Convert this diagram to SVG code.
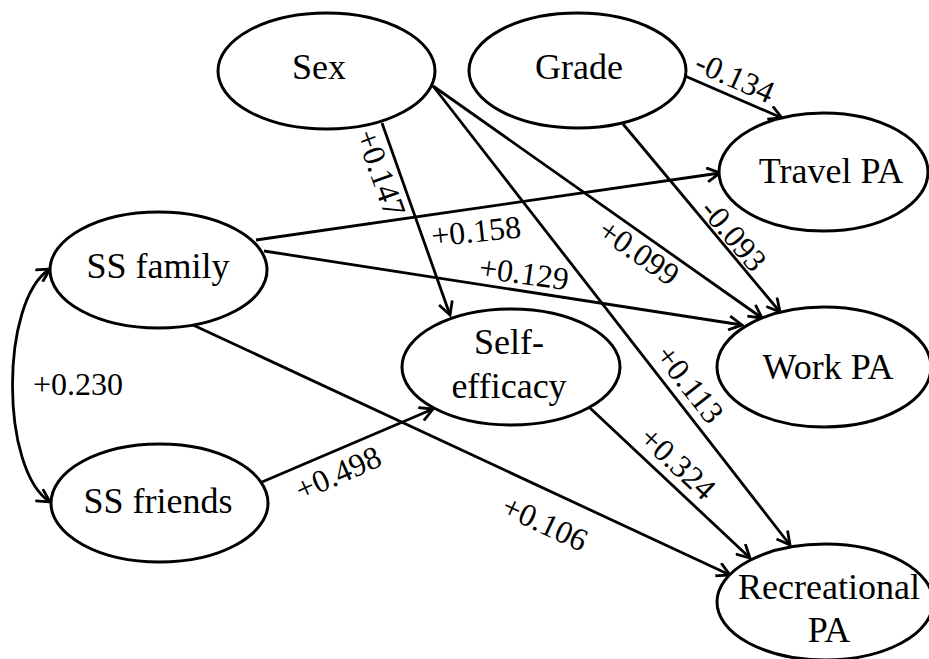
<svg xmlns="http://www.w3.org/2000/svg" width="929" height="659" viewBox="0 0 929 659">
<style>
.node ellipse{fill:#fff;stroke:#000;stroke-width:3}
.nt{font-family:"Liberation Serif","DejaVu Serif","Times New Roman",Times,serif;font-size:36px;fill:#000;text-anchor:middle}
.lb{font-family:"Liberation Serif","DejaVu Serif","Times New Roman",Times,serif;font-size:32px;fill:#000;text-anchor:middle}
.edges path{fill:none;stroke:#000;stroke-width:2.8;marker-end:url(#arr)}
</style>
<defs>
<marker id="arr" viewBox="-15 -8 17 16" markerWidth="17" markerHeight="16" refX="0" refY="0" markerUnits="userSpaceOnUse" orient="auto-start-reverse">
<path d="M -13 -7 L 0 0 L -13 7" fill="none" stroke="#000" stroke-width="2.8"/>
</marker>
</defs>
<rect width="929" height="659" fill="#fff"/>
<g class="edges" id="connectors">
<path d="M 50 269 C 0 300, 0 470, 50 502" marker-start="url(#arr)"/>
<path d="M 382 123 L 450 315"/>
<path d="M 433 86 L 762 318"/>
<path d="M 433 86 L 790 545"/>
<path d="M 685 76 L 782 118"/>
<path d="M 623 124 L 780 312"/>
<path d="M 256 240 L 720 173"/>
<path d="M 264 251 L 742 325"/>
<path d="M 193 325 L 730 575"/>
<path d="M 262 482 L 433 409"/>
<path d="M 590 408 L 750 558"/>
</g>
<g id="labels">
<text class="lb" transform="translate(381,173) rotate(70)" y="11">+0.147</text>
<text class="lb" transform="translate(476,231) rotate(-6)" y="11">+0.158</text>
<text class="lb" transform="translate(524,273) rotate(8)" y="11">+0.129</text>
<text class="lb" transform="translate(639,252) rotate(35)" y="11">+0.099</text>
<text class="lb" transform="translate(734,235) rotate(50)" y="11">-0.093</text>
<text class="lb" transform="translate(735,77) rotate(24)" y="11">-0.134</text>
<text class="lb" transform="translate(690,384) rotate(52)" y="11">+0.113</text>
<text class="lb" transform="translate(678,463) rotate(43)" y="11">+0.324</text>
<text class="lb" transform="translate(545,523) rotate(25)" y="11">+0.106</text>
<text class="lb" transform="translate(338,473) rotate(-24)" y="11">+0.498</text>
<text class="lb" x="78" y="395">+0.230</text>
</g>
<g class="node" id="sex"><ellipse cx="326.5" cy="71" rx="108.5" ry="58"/><text class="nt" x="319" y="79">Sex</text></g>
<g class="node" id="grade"><ellipse cx="577.5" cy="70.5" rx="108.5" ry="57.5"/><text class="nt" x="579" y="79">Grade</text></g>
<g class="node" id="travel"><ellipse cx="823.5" cy="172" rx="104.5" ry="59"/><text class="nt" x="831" y="183">Travel PA</text></g>
<g class="node" id="ssfamily"><ellipse cx="158.5" cy="270" rx="108.5" ry="58"/><text class="nt" x="158" y="278">SS family</text></g>
<g class="node" id="selfefficacy"><ellipse cx="511" cy="367" rx="109" ry="58"/><text class="nt" x="509" y="354">Self-</text><text class="nt" x="509" y="398">efficacy</text></g>
<g class="node" id="work"><ellipse cx="824" cy="367" rx="107" ry="60"/><text class="nt" x="828" y="379">Work PA</text></g>
<g class="node" id="ssfriends"><ellipse cx="159.5" cy="503" rx="108.5" ry="59"/><text class="nt" x="158" y="513">SS friends</text></g>
<g class="node" id="recreational"><ellipse cx="825" cy="602" rx="108" ry="58"/><text class="nt" x="829" y="599">Recreational</text><text class="nt" x="829" y="642">PA</text></g>
</svg>
